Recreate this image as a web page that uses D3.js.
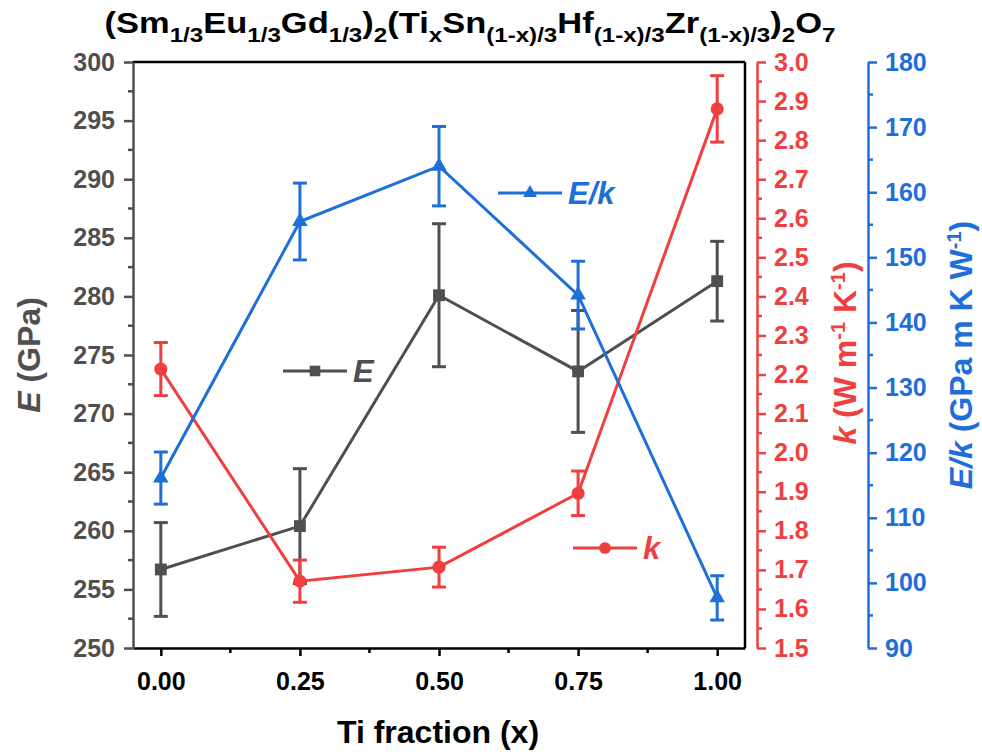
<!DOCTYPE html>
<html lang="en">
<head>
    <meta charset="UTF-8">
    <script src="https://cdn.jsdelivr.net/npm/d3@7"></script>
    <title>E, k and E/k vs Ti fraction</title>
    <style>
        body { margin: 0; background: #fff; }
        svg { font-family: Arial, "Liberation Sans", sans-serif; font-weight: bold; }
    </style>
</head>
<body>
<svg id="chart" width="982" height="752"></svg>
<script>
    // data
    var tiFraction = [0.00, 0.25, 0.50, 0.75, 1.00];
    var modulusE = [256.7, 260.4, 280.1, 273.6, 281.3];
    var modulusErr = [4.0, 4.9, 6.1, 5.2, 3.4];
    var conductK = [2.214, 1.671, 1.707, 1.896, 2.880];
    var conductErr = [0.068, 0.054, 0.051, 0.057, 0.085];
    var ratioEk = [116.1, 155.5, 164.0, 144.2, 97.7];
    var ratioErr = [4.0, 5.9, 6.1, 5.2, 3.4];
    var xTicks = [0, 0.25, 0.5, 0.75, 1.0];

    var gray = "#4f4f4f", red = "#f03f3f", blue = "#1f6fd8";

    var svg = d3.select("#chart");
    var pLeft = 133, pRight = 745, pTop = 62, pBottom = 648;

    var x = d3.scaleLinear().domain([-0.05, 1.05]).range([pLeft, pRight]);
    var yE = d3.scaleLinear().domain([250, 300]).range([pBottom, pTop]);
    var yK = d3.scaleLinear().domain([1.5, 3.0]).range([pBottom, pTop]);
    var yR = d3.scaleLinear().domain([90, 180]).range([pBottom, pTop]);

    // frame
    svg.append("line").attr("x1", pLeft).attr("x2", pRight).attr("y1", pTop).attr("y2", pTop)
        .attr("stroke", "#000").attr("stroke-width", 2.5);
    svg.append("line").attr("x1", pRight).attr("x2", pRight).attr("y1", pTop).attr("y2", pBottom)
        .attr("stroke", "#000").attr("stroke-width", 2.5);

    function styleAxis(g, color, size) {
        g.select(".domain").attr("stroke", color).attr("stroke-width", 2.5);
        g.selectAll(".tick line").attr("stroke", color).attr("stroke-width", 2.5);
        g.selectAll(".tick text").attr("fill", color).style("font-size", size + "px")
            .style("font-weight", "bold");
    }

    // x axis
    var gx = svg.append("g").attr("transform", "translate(0," + pBottom + ")")
        .call(d3.axisBottom(x).tickValues(xTicks).tickFormat(d3.format(".2f"))
            .tickSize(8).tickPadding(16).tickSizeOuter(0));
    styleAxis(gx, "#000", 25);
    gx.selectAll(".minorx").data([0.125, 0.375, 0.625, 0.875]).enter().append("line")
        .attr("stroke", "#000").attr("stroke-width", 2.5)
        .attr("x1", function (d) { return x(d); }).attr("x2", function (d) { return x(d); })
        .attr("y1", 0).attr("y2", 5);

    // left E axis
    var gE = svg.append("g").attr("transform", "translate(" + pLeft + ",0)")
        .call(d3.axisLeft(yE).tickValues(d3.range(250, 301, 5)).tickSize(9).tickPadding(9).tickSizeOuter(0));
    styleAxis(gE, gray, 25);
    gE.selectAll(".mn").data(d3.range(252.5, 300, 5)).enter().append("line")
        .attr("stroke", gray).attr("stroke-width", 2.5)
        .attr("x1", 0).attr("x2", -5)
        .attr("y1", function (d) { return yE(d); }).attr("y2", function (d) { return yE(d); });

    // red k axis
    var kx = 757;
    var gK = svg.append("g").attr("transform", "translate(" + kx + ",0)")
        .call(d3.axisRight(yK).tickValues(d3.range(15, 31).map(function (d) { return d / 10; }))
            .tickFormat(d3.format(".1f")).tickSize(9).tickPadding(8).tickSizeOuter(0));
    styleAxis(gK, red, 25);
    gK.selectAll(".mn").data(d3.range(15.5, 30, 1).map(function (d) { return d / 10; })).enter().append("line")
        .attr("stroke", red).attr("stroke-width", 2.5)
        .attr("x1", 0).attr("x2", 5)
        .attr("y1", function (d) { return yK(d); }).attr("y2", function (d) { return yK(d); });

    // blue E/k axis
    var rx = 868;
    var gR = svg.append("g").attr("transform", "translate(" + rx + ",0)")
        .call(d3.axisRight(yR).tickValues(d3.range(90, 181, 10)).tickSize(9).tickPadding(8).tickSizeOuter(0));
    styleAxis(gR, blue, 25);
    gR.selectAll(".mn").data(d3.range(95, 180, 10)).enter().append("line")
        .attr("stroke", blue).attr("stroke-width", 2.5)
        .attr("x1", 0).attr("x2", 5)
        .attr("y1", function (d) { return yR(d); }).attr("y2", function (d) { return yR(d); });

    function symSize(shape) {
        return shape === d3.symbolTriangle ? 105 : (shape === d3.symbolSquare ? 140 : 135);
    }

    // series
    function drawSeries(vals, errs, y, color, shape) {
        var pts = tiFraction.map(function (t, i) { return {x: t, y: vals[i], e: errs[i]}; });
        var g = svg.append("g");
        g.append("path").datum(pts)
            .attr("fill", "none").attr("stroke", color).attr("stroke-width", 3)
            .attr("d", d3.line().x(function (d) { return x(d.x); }).y(function (d) { return y(d.y); }));
        var eb = g.selectAll(".eb").data(pts).enter().append("g")
            .attr("stroke", color).attr("stroke-width", 3);
        eb.append("line")
            .attr("x1", function (d) { return x(d.x); }).attr("x2", function (d) { return x(d.x); })
            .attr("y1", function (d) { return y(d.y - d.e); }).attr("y2", function (d) { return y(d.y + d.e); });
        [1, -1].forEach(function (s) {
            eb.append("line")
                .attr("x1", function (d) { return x(d.x) - 7; }).attr("x2", function (d) { return x(d.x) + 7; })
                .attr("y1", function (d) { return y(d.y + s * d.e); }).attr("y2", function (d) { return y(d.y + s * d.e); });
        });
        var sym = d3.symbol().type(shape).size(symSize(shape));
        g.selectAll(".pt").data(pts).enter().append("path")
            .attr("d", sym).attr("fill", color)
            .attr("transform", function (d) { return "translate(" + x(d.x) + "," + y(d.y) + ")"; });
    }

    drawSeries(modulusE, modulusErr, yE, gray, d3.symbolSquare);
    drawSeries(conductK, conductErr, yK, red, d3.symbolCircle);
    drawSeries(ratioEk, ratioErr, yR, blue, d3.symbolTriangle);

    // legends
    function legend(cx, cy, color, shape, label) {
        var g = svg.append("g");
        g.append("line").attr("x1", cx - 32).attr("x2", cx + 32).attr("y1", cy).attr("y2", cy)
            .attr("stroke", color).attr("stroke-width", 3);
        g.append("path").attr("d", d3.symbol().type(shape).size(symSize(shape) * 0.8))
            .attr("fill", color).attr("transform", "translate(" + cx + "," + cy + ")");
        g.append("text").attr("x", cx + 38).attr("y", cy + 11).attr("fill", color)
            .style("font-size", "31px").style("font-style", "italic").text(label);
    }
    legend(315, 371, gray, d3.symbolSquare, "E");
    legend(530, 193, blue, d3.symbolTriangle, "E/k");
    legend(605, 548, red, d3.symbolCircle, "k");

    // axis titles
    svg.append("text").attr("x", 438).attr("y", 743).attr("text-anchor", "middle")
        .style("font-size", "32px").text("Ti fraction (x)");

    var tE = svg.append("text").attr("transform", "translate(40,355) rotate(-90)")
        .attr("text-anchor", "middle").attr("fill", gray).style("font-size", "32px");
    tE.append("tspan").style("font-style", "italic").text("E");
    tE.append("tspan").text(" (GPa)");

    var tK = svg.append("text").attr("transform", "translate(856,353) rotate(-90)")
        .attr("text-anchor", "middle").attr("fill", red).style("font-size", "32px");
    tK.append("tspan").style("font-style", "italic").text("k");
    tK.append("tspan").text(" (W m");
    tK.append("tspan").attr("dy", -11).style("font-size", "20px").text("-1");
    tK.append("tspan").attr("dy", 11).text(" K");
    tK.append("tspan").attr("dy", -11).style("font-size", "20px").text("-1");
    tK.append("tspan").attr("dy", 11).text(")");

    var tR = svg.append("text").attr("transform", "translate(972,355) rotate(-90)")
        .attr("text-anchor", "middle").attr("fill", blue).style("font-size", "32px");
    tR.append("tspan").style("font-style", "italic").text("E/k");
    tR.append("tspan").text(" (GPa m K W");
    tR.append("tspan").attr("dy", -11).style("font-size", "20px").text("-1");
    tR.append("tspan").attr("dy", 11).text(")");

    // title with subscripts
    var parts = [["(Sm", 0], ["1/3", 1], ["Eu", 0], ["1/3", 1], ["Gd", 0], ["1/3", 1], [")", 0], ["2", 1],
        ["(Ti", 0], ["x", 1], ["Sn", 0], ["(1-x)/3", 1], ["Hf", 0], ["(1-x)/3", 1], ["Zr", 0], ["(1-x)/3", 1],
        [")", 0], ["2", 1], ["O", 0], ["7", 1]];
    var title = svg.append("text").attr("text-anchor", "middle")
        .attr("transform", "translate(470,33) scale(1.15,1)")
        .style("font-size", "30px");
    var prev = 0;
    parts.forEach(function (p) {
        var dy = (p[1] ? 9 : 0) - prev;
        prev = p[1] ? 9 : 0;
        title.append("tspan").attr("dy", dy).style("font-size", p[1] ? "21px" : "30px").text(p[0]);
    });
</script>
</body>
</html>
